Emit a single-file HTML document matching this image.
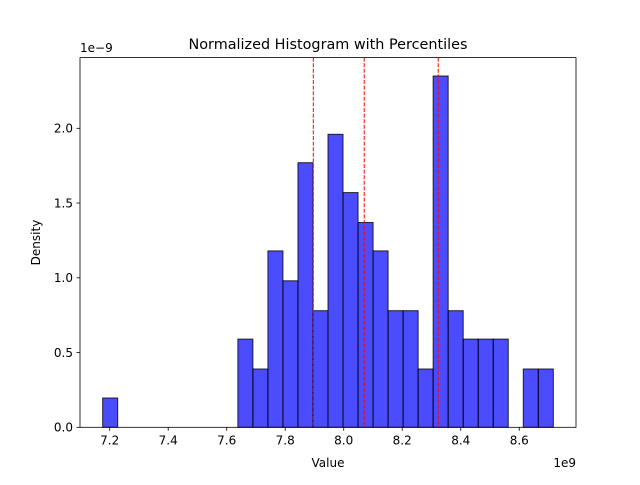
<!DOCTYPE html>
<html><head><meta charset="utf-8"><style>
body{margin:0;background:#fff;}
svg text{font-family:"DejaVu Sans","Liberation Sans",sans-serif;fill:#000;}
</style></head><body>
<svg id="chart" width="640" height="480" viewBox="0 0 640 480" xmlns="http://www.w3.org/2000/svg">
<rect width="640" height="480" fill="#fff"/>
<g id="bars"></g>
<g id="lines"></g>
<rect x="80" y="57.6" width="496" height="369.7" fill="none" stroke="#000" stroke-width="0.8"/>
<g id="xticks"></g>
<g id="yticks"></g>
<text x="328" y="49" font-size="14.4" text-anchor="middle">Normalized Histogram with Percentiles</text>
<text x="328" y="467" font-size="12" text-anchor="middle">Value</text>
<text x="0" y="0" font-size="12" text-anchor="middle" transform="translate(40,242.5) rotate(-90)">Density</text>
<text x="576" y="467" font-size="12" text-anchor="end">1e9</text>
<text x="80" y="52" font-size="12">1e−9</text>
</svg>
<script>
const binStart = 7.176;
const binWidth = 0.05135;
const densities = [0.196,0,0,0,0,0,0,0,0,0.59,0.39,1.18,0.98,1.77,0.78,1.96,1.57,1.37,1.18,0.78,0.78,0.39,2.35,0.78,0.59,0.59,0.59,0,0.39,0.39];
const percentiles = [7.896, 8.070, 8.323];
const xTicks = [7.2,7.4,7.6,7.8,8.0,8.2,8.4,8.6];
const xTickLabels = ["7.2","7.4","7.6","7.8","8.0","8.2","8.4","8.6"];
const yTicks = [0,0.5,1.0,1.5,2.0];
const yTickLabels = ["0.0","0.5","1.0","1.5","2.0"];
const X0=80,X1=576,Y0=427.3,Y1=57.6;
const xmin=7.0985,xmax=8.794,ymin=0,ymax=2.473;
const xs=v=>X0+(v-xmin)/(xmax-xmin)*(X1-X0);
const ys=v=>Y0-(v-ymin)/(ymax-ymin)*(Y0-Y1);
const NS="http://www.w3.org/2000/svg";
function mk(t,a){const e=document.createElementNS(NS,t);for(const k in a)e.setAttribute(k,a[k]);return e;}
const bars=document.getElementById('bars');
densities.forEach((d,i)=>{if(d<=0)return;
 const xa=xs(binStart+i*binWidth),xb=xs(binStart+(i+1)*binWidth);
 const r=mk('rect',{x:xa,y:ys(d),width:xb-xa,height:ys(0)-ys(d),fill:'rgba(0,0,255,0.7)',stroke:'#000','stroke-opacity':0.8,'stroke-width':1});
 
 
 bars.appendChild(r);});
const lines=document.getElementById('lines');
percentiles.forEach(p=>{const l=mk('line',{x1:xs(p),x2:xs(p),y1:Y1,y2:Y0,stroke:'#f00','stroke-width':1,'stroke-dasharray':'4,1.6'});
 
 
 lines.appendChild(l);});
const xg=document.getElementById('xticks');
xTicks.forEach((v,i)=>{const x=xs(v);
 const t=mk('line',{x1:x,x2:x,y1:Y0,y2:Y0+3.5,stroke:'#000','stroke-width':0.8});
 
 
 xg.appendChild(t);
 const tx=mk('text',{x:x,y:Y0+17,'font-size':12,'text-anchor':'middle'});tx.textContent=xTickLabels[i];
 
 
 xg.appendChild(tx);});
const yg=document.getElementById('yticks');
yTicks.forEach((v,i)=>{const y=ys(v);
 const t=mk('line',{x1:X0-3.5,x2:X0,y1:y,y2:y,stroke:'#000','stroke-width':0.8});
 
 
 yg.appendChild(t);
 const tx=mk('text',{x:X0-7,y:y+4.3,'font-size':12,'text-anchor':'end'});tx.textContent=yTickLabels[i];
 
 
 yg.appendChild(tx);});
</script>
</body></html>
